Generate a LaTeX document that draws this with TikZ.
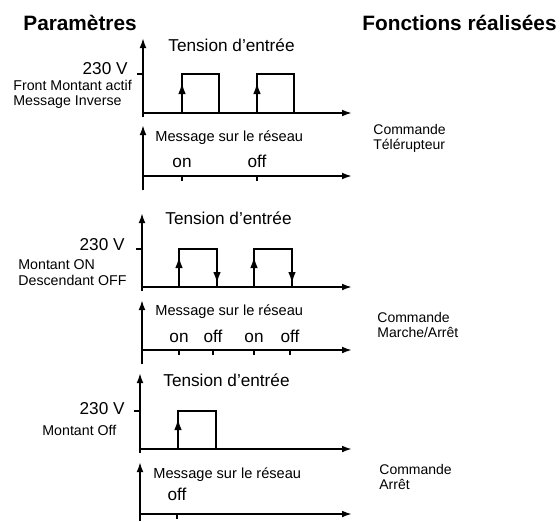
\documentclass[tikz,border=0pt]{standalone}
\usepackage{fontspec}
\setmainfont{Liberation Sans}
\usetikzlibrary{arrows.meta,positioning}

\begin{document}
\begin{tikzpicture}[
  x=0.5pt, y=-0.5pt, inner sep=0.5pt,
  axe/.style={-{Latex[length=5pt,width=3.4pt]}, line width=0.9pt},
  sig/.style={line width=1.3pt},
  front/.style={-{Latex[length=6pt,width=3.8pt]}, line width=1.3pt},
  titre/.style={anchor=west, font=\fontsize{10.4}{12}\selectfont\bfseries},
  tens/.style={anchor=west, font=\fontsize{8.6}{10}\selectfont},
  etat/.style={anchor=base, font=\fontsize{8.6}{10}\selectfont},
  msg/.style={anchor=west, font=\fontsize{7.3}{8.6}\selectfont},
  param/.style={anchor=west, font=\fontsize{7.1}{8.4}\selectfont},
  fonc/.style={anchor=west, align=left, font=\fontsize{7}{7.6}\selectfont}
]
  \useasboundingbox (0,0) rectangle (560,521);

  \node[titre] (param) at (22,23)  {Paramètres};
  \node[titre] (fonc)  at (361,23) {Fonctions réalisées};

  % Front montant actif, message inverse
  \draw[axe] (143,117) -- (143,38);
  \draw[axe] (143,113) -- (352,113);
  \draw[line width=0.9pt] (137,74) -- (143,74);
  \draw[sig] (143,113) -| (182,74) -| (219,113) -| (257,74) -| (294,113);
  \foreach \x in {182,257} \draw[front] (\x,113) -- (\x,82);
  \node[tens] (tens1) at (167,45) {Tension d'entrée};
  \node[etat, anchor=east] (volt1) at (129,69) {230 V};
  \node[param] (par1a) at (12,85)  {Front Montant actif};
  \node[param] (par1b) at (12,102) {Message Inverse};
  \draw[axe] (143,190) -- (143,125);
  \draw[axe] (143,176) -- (352,176);
  \node[msg] (msg1) at (154,138) {Message sur le réseau};
  \foreach \x/\t in {182/on,257/off}{
    \draw[line width=0.9pt] (\x,176) -- (\x,181);
    \node[etat] (a\x) at (\x,167) {\t};
  }
  \node[fonc] (fonc1) at (372,138) {Commande\\Télérupteur};

  % Montant ON, descendant OFF
  \draw[axe] (142,291) -- (142,213);
  \draw[axe] (142,287) -- (352,287);
  \draw[line width=0.9pt] (136,249) -- (142,249);
  \draw[sig] (142,287) -| (179,249) -| (217,287) -| (254,249) -| (292,287);
  \foreach \x in {179,254} \draw[front] (\x,287) -- (\x,256);
  \foreach \x in {217,292} \draw[front] (\x,249) -- (\x,284);
  \node[tens] (tens2) at (164,218) {Tension d'entrée};
  \node[etat, anchor=east] (volt2) at (126,245) {230 V};
  \node[param] (par2a) at (17,265) {Montant ON};
  \node[param] (par2b) at (17,280) {Descendant OFF};
  \draw[axe] (142,364) -- (142,300);
  \draw[axe] (142,350) -- (352,350);
  \node[msg] (msg2) at (154,312) {Message sur le réseau};
  \foreach \x/\t in {179/on,213/off,254/on,290/off}{
    \draw[line width=0.9pt] (\x,350) -- (\x,355);
    \node[etat] (b\x) at (\x,342) {\t};
  }
  \node[fonc] (fonc2) at (376,325) {Commande\\Marche/Arrêt};

  % Montant OFF
  \draw[axe] (140,453) -- (140,373);
  \draw[axe] (140,449) -- (352,449);
  \draw[line width=0.9pt] (134,411) -- (140,411);
  \draw[sig] (140,449) -| (178,411) -| (216,449) -- (250,449);
  \draw[front] (178,449) -- (178,418);
  \node[tens] (tens3) at (162,380) {Tension d'entrée};
  \node[etat, anchor=east] (volt3) at (126,409) {230 V};
  \node[param] (par3) at (41,430) {Montant Off};
  \draw[axe] (140,521) -- (140,462);
  \draw[axe] (140,514) -- (352,514);
  \node[msg] (msg3) at (152,475) {Message sur le réseau};
  \draw[line width=0.9pt] (177,514) -- (177,519);
  \node[etat] (c177) at (177,500) {off};
  \node[fonc] (fonc3) at (378,477) {Commande\\Arrêt};
\end{tikzpicture}
\end{document}
